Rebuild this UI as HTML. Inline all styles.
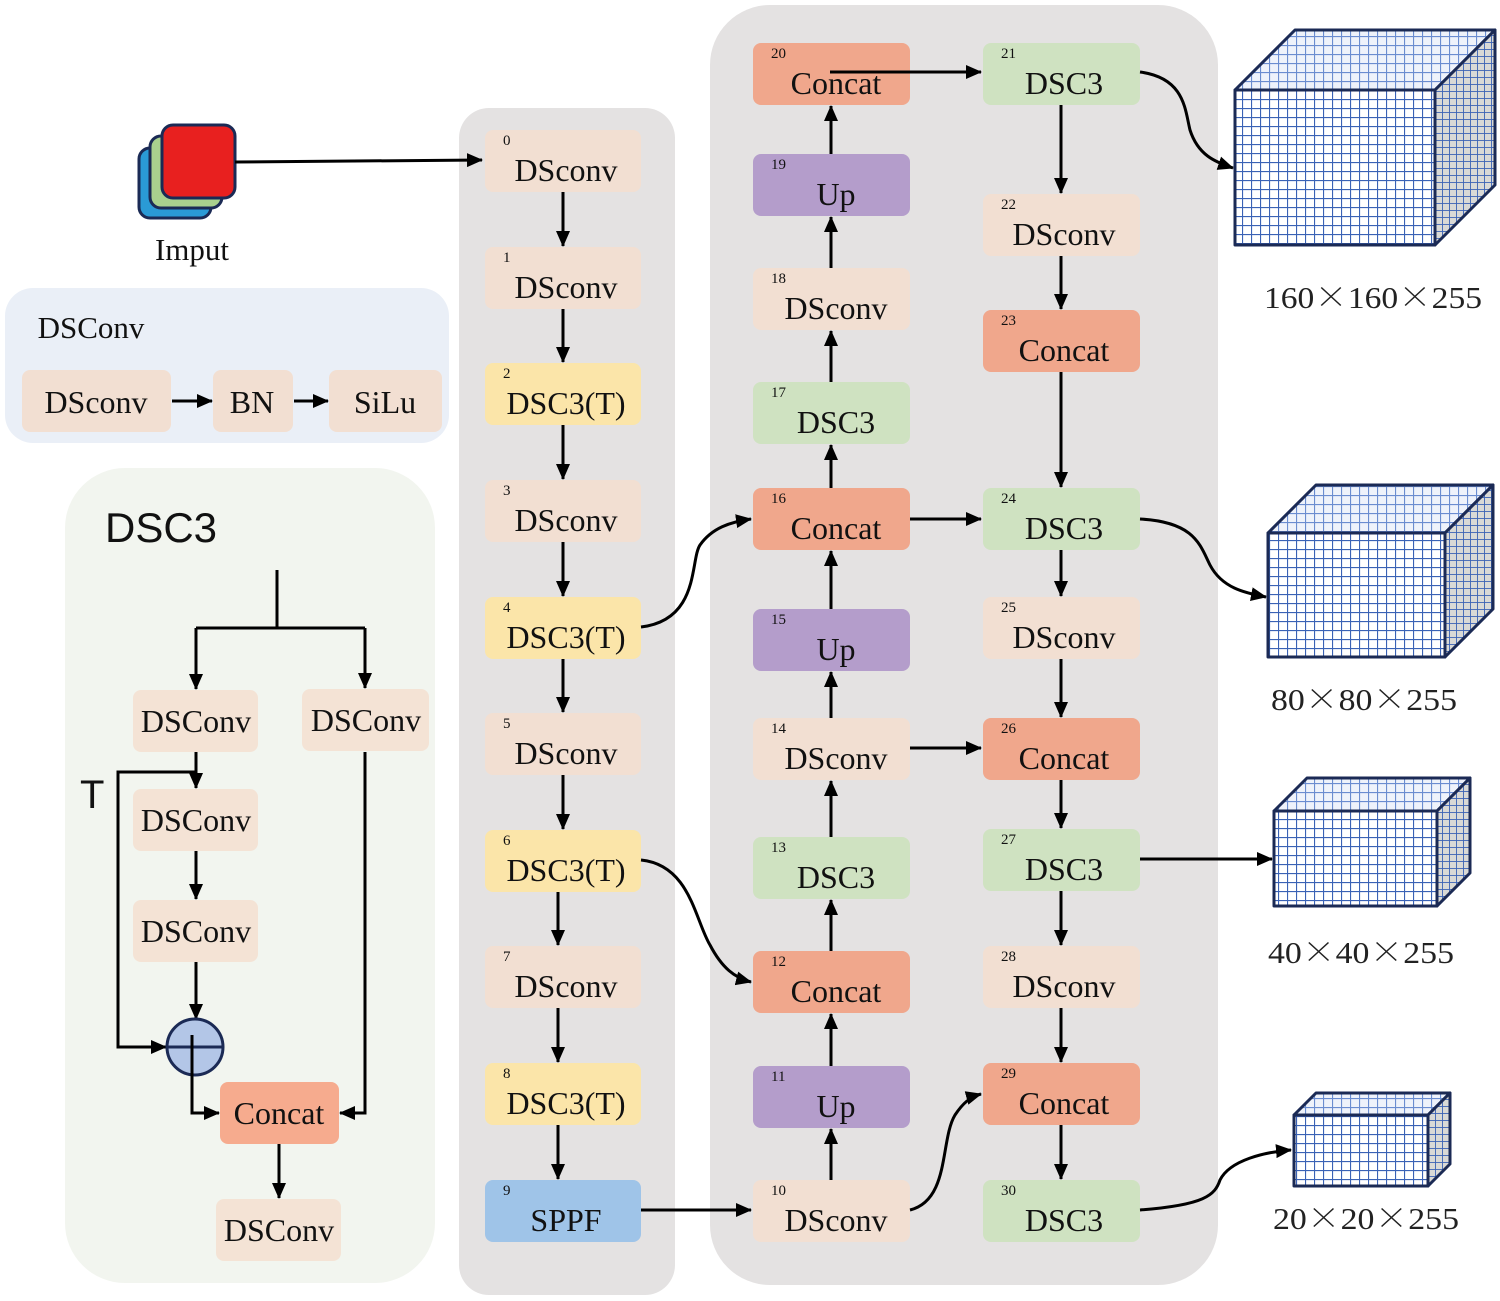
<!DOCTYPE html>
<html><head><meta charset="utf-8"><style>
html,body{margin:0;padding:0;background:#fff;}
svg{display:block}
.t{font-family:"Liberation Serif",serif;font-size:32px;fill:#111;text-anchor:middle}
.n{font-family:"Liberation Serif",serif;font-size:15px;fill:#111}
.s{font-family:"Liberation Sans",sans-serif;fill:#111}
.l{stroke:#000;stroke-width:3;fill:none}
.d{font-family:"Liberation Serif","Noto Serif CJK SC",serif;font-size:31px;fill:#222;text-anchor:middle}
.x{font-family:"Noto Serif CJK SC","Noto Sans CJK SC",serif}
</style></head><body>
<svg width="1500" height="1301" viewBox="0 0 1500 1301" xmlns="http://www.w3.org/2000/svg">
<defs>
<marker id="a" markerWidth="16" markerHeight="14" refX="15" refY="7" orient="auto" markerUnits="userSpaceOnUse"><path d="M0,0 L16,7 L0,14 z" fill="#000"/></marker>
<pattern id="g" width="9" height="9" patternUnits="userSpaceOnUse"><rect width="9" height="9" fill="#fff"/><path d="M0,0H9M0,0V9" stroke="#3a62b5" stroke-width="2.2"/></pattern>
<pattern id="gt" width="9" height="9" patternUnits="userSpaceOnUse"><rect width="9" height="9" fill="#eef2fb"/><path d="M0,0H9M0,0V9" stroke="#6a8cd0" stroke-width="2.2"/></pattern>
<pattern id="gs" width="7" height="7" patternUnits="userSpaceOnUse"><rect width="7" height="7" fill="#d9d9d6"/><path d="M0,0H7M0,0V7" stroke="#3a62b5" stroke-width="1.8"/></pattern>
</defs>

<rect x="459" y="108" width="216" height="1187" rx="30" fill="#e4e2e2"/>
<rect x="710" y="5" width="508" height="1280" rx="60" fill="#e4e2e2"/>
<rect x="5" y="288" width="444" height="155" rx="28" fill="#eaeff7"/>
<rect x="65" y="468" width="370" height="815" rx="60" fill="#f2f5ef"/>

<rect x="139" y="148" width="72" height="70" rx="11" fill="#2a9ad6" stroke="#1b2a55" stroke-width="3"/>
<rect x="150" y="136" width="72" height="72" rx="11" fill="#a9d08e" stroke="#1b2a55" stroke-width="3"/>
<rect x="162" y="125" width="73" height="73" rx="11" fill="#e8201f" stroke="#1b2a55" stroke-width="3"/>
<text class="t" x="192" y="260" style="font-size:31px">Imput</text>
<path class="l" d="M235,162 L482,160" marker-end="url(#a)"/>

<text class="t" x="91" y="338" style="font-size:31px">DSConv</text>
<rect x="22" y="370" width="149" height="62" rx="8" fill="#f2dfd2"/><text class="t" x="96" y="413">DSconv</text>
<rect x="213" y="370" width="80" height="62" rx="8" fill="#f2dfd2"/><text class="t" x="252" y="413">BN</text>
<rect x="329" y="370" width="113" height="62" rx="8" fill="#f2dfd2"/><text class="t" x="385" y="413">SiLu</text>
<path class="l" d="M172,401 H212" marker-end="url(#a)"/>
<path class="l" d="M294,401 H328" marker-end="url(#a)"/>

<text class="s" x="105" y="542" style="font-size:42px">DSC3</text>
<text class="s" x="80" y="808" style="font-size:40px">T</text>
<path class="l" d="M277,570 V628"/>
<path class="l" d="M196,628 H365"/>
<path class="l" d="M196,628 V689" marker-end="url(#a)"/>
<path class="l" d="M365,628 V688" marker-end="url(#a)"/>
<rect x="133" y="690" width="125" height="62" rx="8" fill="#f4e3d5"/><text class="t" x="196" y="732">DSConv</text>
<rect x="302" y="689" width="127" height="62" rx="8" fill="#f4e3d5"/><text class="t" x="366" y="731">DSConv</text>
<rect x="133" y="789" width="125" height="62" rx="8" fill="#f4e3d5"/><text class="t" x="196" y="831">DSConv</text>
<rect x="133" y="900" width="125" height="62" rx="8" fill="#f4e3d5"/><text class="t" x="196" y="942">DSConv</text>
<path class="l" d="M196,752 V788" marker-end="url(#a)"/>
<path class="l" d="M196,772 H118 V1047 H166" marker-end="url(#a)"/>
<path class="l" d="M196,851 V899" marker-end="url(#a)"/>
<path class="l" d="M196,962 V1019" marker-end="url(#a)"/>
<circle cx="195" cy="1047" r="28" fill="#b3c6e7" stroke="#1b2a55" stroke-width="3"/>
<path d="M167,1047 H223" stroke="#1b2a55" stroke-width="3"/>
<path class="l" d="M192,1035 V1113 H219" marker-end="url(#a)"/>
<path class="l" d="M365,752 V1113 H340" marker-end="url(#a)"/>
<rect x="220" y="1082" width="119" height="62" rx="8" fill="#f6ab8e"/><text class="t" x="279" y="1124">Concat</text>
<path class="l" d="M279,1144 V1198" marker-end="url(#a)"/>
<rect x="216" y="1199" width="125" height="62" rx="8" fill="#f4e3d5"/><text class="t" x="279" y="1241">DSConv</text>

<g>
<rect x="485" y="130" width="156" height="62" rx="8" fill="#f2dfd2"/><text class="n" x="503" y="145">0</text><text class="t" x="566" y="181">DSconv</text>
<rect x="485" y="247" width="156" height="62" rx="8" fill="#f2dfd2"/><text class="n" x="503" y="262">1</text><text class="t" x="566" y="298">DSconv</text>
<rect x="485" y="363" width="156" height="62" rx="8" fill="#fbe5a9"/><text class="n" x="503" y="378">2</text><text class="t" x="566" y="414">DSC3(T)</text>
<rect x="485" y="480" width="156" height="62" rx="8" fill="#f2dfd2"/><text class="n" x="503" y="495">3</text><text class="t" x="566" y="531">DSconv</text>
<rect x="485" y="597" width="156" height="62" rx="8" fill="#fbe5a9"/><text class="n" x="503" y="612">4</text><text class="t" x="566" y="648">DSC3(T)</text>
<rect x="485" y="713" width="156" height="62" rx="8" fill="#f2dfd2"/><text class="n" x="503" y="728">5</text><text class="t" x="566" y="764">DSconv</text>
<rect x="485" y="830" width="156" height="62" rx="8" fill="#fbe5a9"/><text class="n" x="503" y="845">6</text><text class="t" x="566" y="881">DSC3(T)</text>
<rect x="485" y="946" width="156" height="62" rx="8" fill="#f2dfd2"/><text class="n" x="503" y="961">7</text><text class="t" x="566" y="997">DSconv</text>
<rect x="485" y="1063" width="156" height="62" rx="8" fill="#fbe5a9"/><text class="n" x="503" y="1078">8</text><text class="t" x="566" y="1114">DSC3(T)</text>
<rect x="485" y="1180" width="156" height="62" rx="8" fill="#9fc4e8"/><text class="n" x="503" y="1195">9</text><text class="t" x="566" y="1231">SPPF</text>
<path class="l" d="M563,192 V246" marker-end="url(#a)"/>
<path class="l" d="M563,309 V362" marker-end="url(#a)"/>
<path class="l" d="M563,425 V479" marker-end="url(#a)"/>
<path class="l" d="M563,542 V596" marker-end="url(#a)"/>
<path class="l" d="M563,659 V712" marker-end="url(#a)"/>
<path class="l" d="M563,775 V829" marker-end="url(#a)"/>
<path class="l" d="M558,892 V945" marker-end="url(#a)"/>
<path class="l" d="M558,1008 V1062" marker-end="url(#a)"/>
<path class="l" d="M558,1125 V1179" marker-end="url(#a)"/>
</g>

<g>
<rect x="753" y="43" width="157" height="62" rx="8" fill="#f0a78c"/><text class="n" x="771" y="58">20</text><text class="t" x="836" y="94">Concat</text>
<rect x="753" y="154" width="157" height="62" rx="8" fill="#b49dcb"/><text class="n" x="771" y="169">19</text><text class="t" x="836" y="205">Up</text>
<rect x="753" y="268" width="157" height="62" rx="8" fill="#f2dfd2"/><text class="n" x="771" y="283">18</text><text class="t" x="836" y="319">DSconv</text>
<rect x="753" y="382" width="157" height="62" rx="8" fill="#cfe2c1"/><text class="n" x="771" y="397">17</text><text class="t" x="836" y="433">DSC3</text>
<rect x="753" y="488" width="157" height="62" rx="8" fill="#f0a78c"/><text class="n" x="771" y="503">16</text><text class="t" x="836" y="539">Concat</text>
<rect x="753" y="609" width="157" height="62" rx="8" fill="#b49dcb"/><text class="n" x="771" y="624">15</text><text class="t" x="836" y="660">Up</text>
<rect x="753" y="718" width="157" height="62" rx="8" fill="#f2dfd2"/><text class="n" x="771" y="733">14</text><text class="t" x="836" y="769">DSconv</text>
<rect x="753" y="837" width="157" height="62" rx="8" fill="#cfe2c1"/><text class="n" x="771" y="852">13</text><text class="t" x="836" y="888">DSC3</text>
<rect x="753" y="951" width="157" height="62" rx="8" fill="#f0a78c"/><text class="n" x="771" y="966">12</text><text class="t" x="836" y="1002">Concat</text>
<rect x="753" y="1066" width="157" height="62" rx="8" fill="#b49dcb"/><text class="n" x="771" y="1081">11</text><text class="t" x="836" y="1117">Up</text>
<rect x="753" y="1180" width="157" height="62" rx="8" fill="#f2dfd2"/><text class="n" x="771" y="1195">10</text><text class="t" x="836" y="1231">DSconv</text>
<path class="l" d="M831,1180 V1129" marker-end="url(#a)"/>
<path class="l" d="M831,1066 V1014" marker-end="url(#a)"/>
<path class="l" d="M831,951 V900" marker-end="url(#a)"/>
<path class="l" d="M831,837 V781" marker-end="url(#a)"/>
<path class="l" d="M831,718 V672" marker-end="url(#a)"/>
<path class="l" d="M831,609 V551" marker-end="url(#a)"/>
<path class="l" d="M831,488 V445" marker-end="url(#a)"/>
<path class="l" d="M831,382 V331" marker-end="url(#a)"/>
<path class="l" d="M831,268 V217" marker-end="url(#a)"/>
<path class="l" d="M831,154 V106" marker-end="url(#a)"/>
</g>

<g>
<rect x="983" y="43" width="157" height="62" rx="8" fill="#cfe2c1"/><text class="n" x="1001" y="58">21</text><text class="t" x="1064" y="94">DSC3</text>
<rect x="983" y="194" width="157" height="62" rx="8" fill="#f2dfd2"/><text class="n" x="1001" y="209">22</text><text class="t" x="1064" y="245">DSconv</text>
<rect x="983" y="310" width="157" height="62" rx="8" fill="#f0a78c"/><text class="n" x="1001" y="325">23</text><text class="t" x="1064" y="361">Concat</text>
<rect x="983" y="488" width="157" height="62" rx="8" fill="#cfe2c1"/><text class="n" x="1001" y="503">24</text><text class="t" x="1064" y="539">DSC3</text>
<rect x="983" y="597" width="157" height="62" rx="8" fill="#f2dfd2"/><text class="n" x="1001" y="612">25</text><text class="t" x="1064" y="648">DSconv</text>
<rect x="983" y="718" width="157" height="62" rx="8" fill="#f0a78c"/><text class="n" x="1001" y="733">26</text><text class="t" x="1064" y="769">Concat</text>
<rect x="983" y="829" width="157" height="62" rx="8" fill="#cfe2c1"/><text class="n" x="1001" y="844">27</text><text class="t" x="1064" y="880">DSC3</text>
<rect x="983" y="946" width="157" height="62" rx="8" fill="#f2dfd2"/><text class="n" x="1001" y="961">28</text><text class="t" x="1064" y="997">DSconv</text>
<rect x="983" y="1063" width="157" height="62" rx="8" fill="#f0a78c"/><text class="n" x="1001" y="1078">29</text><text class="t" x="1064" y="1114">Concat</text>
<rect x="983" y="1180" width="157" height="62" rx="8" fill="#cfe2c1"/><text class="n" x="1001" y="1195">30</text><text class="t" x="1064" y="1231">DSC3</text>
<path class="l" d="M1061,105 V193" marker-end="url(#a)"/>
<path class="l" d="M1061,256 V309" marker-end="url(#a)"/>
<path class="l" d="M1061,372 V487" marker-end="url(#a)"/>
<path class="l" d="M1061,550 V596" marker-end="url(#a)"/>
<path class="l" d="M1061,659 V717" marker-end="url(#a)"/>
<path class="l" d="M1061,780 V828" marker-end="url(#a)"/>
<path class="l" d="M1061,891 V945" marker-end="url(#a)"/>
<path class="l" d="M1061,1008 V1062" marker-end="url(#a)"/>
<path class="l" d="M1061,1125 V1179" marker-end="url(#a)"/>
</g>

<path class="l" d="M830,72 H981" marker-end="url(#a)"/>
<path class="l" d="M910,519 H981" marker-end="url(#a)"/>
<path class="l" d="M910,748 H981" marker-end="url(#a)"/>
<path class="l" d="M641,1210 H751" marker-end="url(#a)"/>
<path class="l" d="M1140,859 H1272" marker-end="url(#a)"/>
<path class="l" d="M641,627 C700,620 690,560 700,545 C712,528 730,522 751,519" marker-end="url(#a)"/>
<path class="l" d="M641,860 C690,865 695,920 710,945 C722,968 735,978 751,982" marker-end="url(#a)"/>
<path class="l" d="M910,1210 C950,1200 940,1140 955,1115 C963,1103 970,1097 981,1094" marker-end="url(#a)"/>
<path class="l" d="M1140,72 C1185,78 1185,110 1190,130 C1198,155 1215,162 1233,168" marker-end="url(#a)"/>
<path class="l" d="M1140,519 C1195,522 1200,545 1210,565 C1222,588 1245,593 1266,597" marker-end="url(#a)"/>
<path class="l" d="M1140,1210 C1205,1205 1215,1195 1220,1180 C1230,1160 1265,1152 1291,1150" marker-end="url(#a)"/>

<g stroke="#1b2a55" stroke-width="3" stroke-linejoin="round">
<polygon points="1235,90 1295,30 1495,30 1435,90" fill="url(#gt)"/>
<polygon points="1435,90 1495,30 1495,185 1435,245" fill="url(#gs)"/>
<rect x="1235" y="90" width="200" height="155" fill="url(#g)"/>
<polygon points="1268,533 1316,485 1493,485 1445,533" fill="url(#gt)"/>
<polygon points="1445,533 1493,485 1493,609 1445,657" fill="url(#gs)"/>
<rect x="1268" y="533" width="177" height="124" fill="url(#g)"/>
<polygon points="1274,811 1307,778 1470,778 1437,811" fill="url(#gt)"/>
<polygon points="1437,811 1470,778 1470,873 1437,906" fill="url(#gs)"/>
<rect x="1274" y="811" width="163" height="95" fill="url(#g)"/>
<polygon points="1294,1115 1316,1093 1450,1093 1428,1115" fill="url(#gt)"/>
<polygon points="1428,1115 1450,1093 1450,1164 1428,1186" fill="url(#gs)"/>
<rect x="1294" y="1115" width="134" height="71" fill="url(#g)"/>
</g>
<text class="d" x="1373" y="308" textLength="218" lengthAdjust="spacingAndGlyphs">160<tspan class="x">×</tspan>160<tspan class="x">×</tspan>255</text>
<text class="d" x="1364" y="710" textLength="186" lengthAdjust="spacingAndGlyphs">80<tspan class="x">×</tspan>80<tspan class="x">×</tspan>255</text>
<text class="d" x="1361" y="963" textLength="186" lengthAdjust="spacingAndGlyphs">40<tspan class="x">×</tspan>40<tspan class="x">×</tspan>255</text>
<text class="d" x="1366" y="1229" textLength="186" lengthAdjust="spacingAndGlyphs">20<tspan class="x">×</tspan>20<tspan class="x">×</tspan>255</text>
</svg>
</body></html>
